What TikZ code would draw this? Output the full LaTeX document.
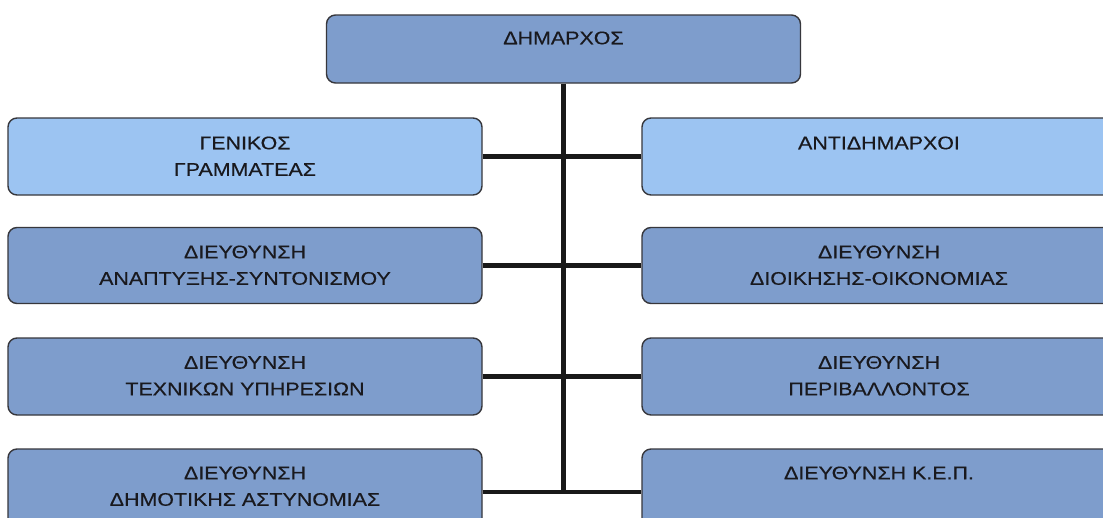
\documentclass[tikz,border=0pt]{standalone}
\usepackage{fontspec}
\setmainfont{Liberation Sans}[FakeStretch=1.17,FakeBold=0.35]
\definecolor{darkbox}{RGB}{126,157,204}
\definecolor{lightbox}{RGB}{156,196,242}
\definecolor{edge}{RGB}{55,55,60}
\definecolor{ink}{RGB}{25,25,30}
\tikzset{
  orgbox/.style={draw=edge, line width=1.4pt, rounded corners=9pt, inner sep=0pt, minimum width=474pt},
  dbox/.style={orgbox, fill=darkbox},
  lbox/.style={orgbox, fill=lightbox},
  boxtext/.style={anchor=north, inner sep=0pt, align=center, text=ink, font=\fontsize{18.3}{26.5}\selectfont},
  conn/.style={line width=4.5pt, black!90}
}
\begin{document}
\begin{tikzpicture}[x=1pt,y=-1pt]
\useasboundingbox (0,0) rectangle (1103,517);
\fill[white] (0,0) rectangle (1103,517);
\clip (0,0) rectangle (1103,517);
% boxes
\node[dbox, minimum height=68pt] (dim) at (563.5,49) {};
\node[lbox, minimum height=77pt] (l1) at (245,156.5) {};
\node[lbox, minimum height=77pt] (r1) at (879,156.5) {};
\node[dbox, minimum height=76pt] (l2) at (245,265.5) {};
\node[dbox, minimum height=76pt] (r2) at (879,265.5) {};
\node[dbox, minimum height=77pt] (l3) at (245,376.5) {};
\node[dbox, minimum height=77pt] (r3) at (879,376.5) {};
\node[dbox, minimum height=86pt] (l4) at (245,492) {};
\node[dbox, minimum height=86pt] (r4) at (879,492) {};
% connectors
\draw[conn] (dim.south) -- (dim.south |- l4.east);
\draw[conn] (l1.east) -- (r1.west);
\draw[conn] (l2.east) -- (r2.west);
\draw[conn] (l3.east) -- (r3.west);
\draw[conn] (l4.east) -- (r4.west);
% texts
\node[boxtext] (tdim) at ([yshift=-17pt]dim.north) {ΔΗΜΑΡΧΟΣ};
\node[boxtext] (tl1) at ([yshift=-19pt]l1.north) {ΓΕΝΙΚΟΣ\\ΓΡΑΜΜΑΤΕΑΣ};
\node[boxtext] (tr1) at ([yshift=-19pt]r1.north) {ΑΝΤΙΔΗΜΑΡΧΟΙ};
\node[boxtext] (tl2) at ([yshift=-18.5pt]l2.north) {ΔΙΕΥΘΥΝΣΗ\\ΑΝΑΠΤΥΞΗΣ-ΣΥΝΤΟΝΙΣΜΟΥ};
\node[boxtext] (tr2) at ([yshift=-18.5pt]r2.north) {ΔΙΕΥΘΥΝΣΗ\\ΔΙΟΙΚΗΣΗΣ-ΟΙΚΟΝΟΜΙΑΣ};
\node[boxtext] (tl3) at ([yshift=-18.5pt]l3.north) {ΔΙΕΥΘΥΝΣΗ\\ΤΕΧΝΙΚΩΝ ΥΠΗΡΕΣΙΩΝ};
\node[boxtext] (tr3) at ([yshift=-18.5pt]r3.north) {ΔΙΕΥΘΥΝΣΗ\\ΠΕΡΙΒΑΛΛΟΝΤΟΣ};
\node[boxtext] (tl4) at ([yshift=-18pt]l4.north) {ΔΙΕΥΘΥΝΣΗ\\ΔΗΜΟΤΙΚΗΣ ΑΣΤΥΝΟΜΙΑΣ};
\node[boxtext] (tr4) at ([yshift=-18pt]r4.north) {ΔΙΕΥΘΥΝΣΗ Κ.Ε.Π.};
\end{tikzpicture}
\end{document}
